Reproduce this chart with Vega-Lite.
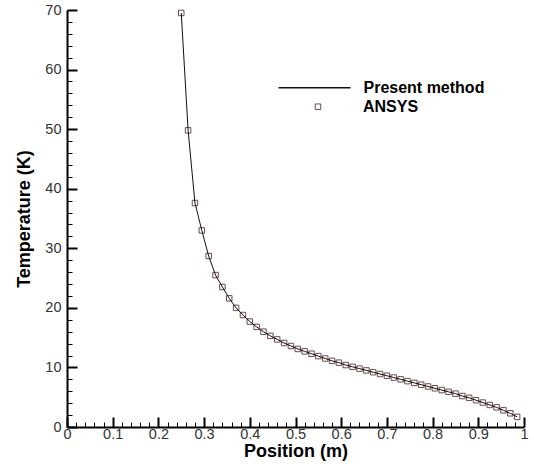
{
  "$schema": "https://vega.github.io/schema/vega-lite/v6.json",
  "width": 457,
  "height": 417,
  "autosize": {"type": "none"},
  "padding": {"left": 67, "top": 10, "right": 10, "bottom": 43},
  "background": "white",
  "config": {
    "view": {"stroke": null},
    "font": "Liberation Sans",
    "axis": {
      "grid": false,
      "labelFont": "Liberation Sans",
      "titleFont": "Liberation Sans",
      "labelFlush": false,
      "labelOverlap": false,
      "labelColor": "#333333",
      "labelFontSize": 14.5,
      "titleFontSize": 18,
      "titleFontWeight": "bold",
      "titleColor": "#000000",
      "tickColor": "#000000",
      "domainColor": "#000000"
    }
  },
  "data": {
    "values": [
      {"position": 0.250, "temperature": 69.5},
      {"position": 0.265, "temperature": 49.8},
      {"position": 0.280, "temperature": 37.6},
      {"position": 0.295, "temperature": 33.0},
      {"position": 0.310, "temperature": 28.7},
      {"position": 0.325, "temperature": 25.5},
      {"position": 0.340, "temperature": 23.5},
      {"position": 0.355, "temperature": 21.6},
      {"position": 0.370, "temperature": 20.0},
      {"position": 0.385, "temperature": 18.8},
      {"position": 0.400, "temperature": 17.7},
      {"position": 0.415, "temperature": 16.8},
      {"position": 0.430, "temperature": 16.0},
      {"position": 0.445, "temperature": 15.3},
      {"position": 0.460, "temperature": 14.7},
      {"position": 0.475, "temperature": 14.1},
      {"position": 0.490, "temperature": 13.6},
      {"position": 0.505, "temperature": 13.1},
      {"position": 0.520, "temperature": 12.7},
      {"position": 0.535, "temperature": 12.3},
      {"position": 0.550, "temperature": 11.9},
      {"position": 0.565, "temperature": 11.5},
      {"position": 0.580, "temperature": 11.1},
      {"position": 0.595, "temperature": 10.8},
      {"position": 0.610, "temperature": 10.4},
      {"position": 0.625, "temperature": 10.1},
      {"position": 0.640, "temperature": 9.8},
      {"position": 0.655, "temperature": 9.5},
      {"position": 0.670, "temperature": 9.2},
      {"position": 0.685, "temperature": 8.9},
      {"position": 0.700, "temperature": 8.6},
      {"position": 0.715, "temperature": 8.3},
      {"position": 0.730, "temperature": 8.0},
      {"position": 0.745, "temperature": 7.7},
      {"position": 0.760, "temperature": 7.4},
      {"position": 0.775, "temperature": 7.1},
      {"position": 0.790, "temperature": 6.8},
      {"position": 0.805, "temperature": 6.5},
      {"position": 0.820, "temperature": 6.2},
      {"position": 0.835, "temperature": 5.9},
      {"position": 0.850, "temperature": 5.6},
      {"position": 0.865, "temperature": 5.2},
      {"position": 0.880, "temperature": 4.9},
      {"position": 0.895, "temperature": 4.5},
      {"position": 0.910, "temperature": 4.1},
      {"position": 0.925, "temperature": 3.7},
      {"position": 0.940, "temperature": 3.3},
      {"position": 0.955, "temperature": 2.8},
      {"position": 0.970, "temperature": 2.3},
      {"position": 0.985, "temperature": 1.7}
    ]
  },
  "resolve": {"axis": {"x": "independent", "y": "independent"}},
  "layer": [
    {
      "mark": {"type": "point", "shape": "square", "filled": false, "color": "#6b4a4a", "strokeWidth": 1, "size": 30, "opacity": 1},
      "encoding": {
        "x": {
          "field": "position", "type": "quantitative",
          "scale": {"domain": [0, 1], "nice": false, "zero": false},
          "axis": {
            "orient": "bottom", "title": null, "labels": false, "domain": false,
            "tickSize": -5, "tickWidth": 1,
            "values": [0.02, 0.04, 0.06, 0.08, 0.12, 0.14, 0.16, 0.18, 0.22, 0.24, 0.26, 0.28, 0.32, 0.34, 0.36, 0.38, 0.42, 0.44, 0.46, 0.48, 0.52, 0.54, 0.56, 0.58, 0.62, 0.64, 0.66, 0.68, 0.72, 0.74, 0.76, 0.78, 0.82, 0.84, 0.86, 0.88, 0.92, 0.94, 0.96, 0.98]
          }
        },
        "y": {
          "field": "temperature", "type": "quantitative",
          "scale": {"domain": [0, 70], "nice": false},
          "axis": {
            "orient": "left", "title": null, "labels": false, "domain": false,
            "tickSize": -5, "tickWidth": 1,
            "values": [2, 4, 6, 8, 12, 14, 16, 18, 22, 24, 26, 28, 32, 34, 36, 38, 42, 44, 46, 48, 52, 54, 56, 58, 62, 64, 66, 68]
          }
        },
        "shape": {
          "datum": "ANSYS",
          "scale": {"domain": ["ANSYS"], "range": ["square"]},
          "legend": {
            "title": null, "orient": "none", "legendX": 243, "legendY": 88.7, "padding": 0,
            "symbolSize": 30, "symbolStrokeColor": "#6b4a4a", "symbolFillColor": "transparent", "symbolStrokeWidth": 1,
            "labelFont": "Liberation Sans", "labelFontSize": 16, "labelFontWeight": "bold", "labelColor": "#000000",
            "labelOffset": 37
          }
        }
      }
    },
    {
      "mark": {"type": "line", "strokeWidth": 1},
      "encoding": {
        "x": {
          "field": "position", "type": "quantitative",
          "axis": {
            "orient": "bottom", "title": "Position (m)", "format": "~g",
            "values": [0, 0.1, 0.2, 0.3, 0.4, 0.5, 0.6, 0.7, 0.8, 0.9, 1],
            "tickSize": -10, "tickWidth": 2, "domainWidth": 2,
            "labelPadding": 10, "titlePadding": 2
          }
        },
        "y": {
          "field": "temperature", "type": "quantitative",
          "axis": {
            "orient": "left", "title": "Temperature (K)",
            "values": [0, 10, 20, 30, 40, 50, 60, 70],
            "tickSize": -10, "tickWidth": 2, "domainWidth": 2,
            "labelPadding": 16, "titlePadding": 11
          }
        },
        "color": {
          "datum": "Present method",
          "scale": {"domain": ["Present method"], "range": ["#111111"]},
          "legend": {
            "title": null, "orient": "none", "legendX": 210.5, "legendY": 40.7, "padding": 0,
            "symbolType": "stroke", "symbolSize": 5184, "symbolStrokeWidth": 1.5,
            "labelFont": "Liberation Sans", "labelFontSize": 16, "labelFontWeight": "bold", "labelColor": "#000000",
            "labelOffset": 12
          }
        }
      }
    }
  ]
}
